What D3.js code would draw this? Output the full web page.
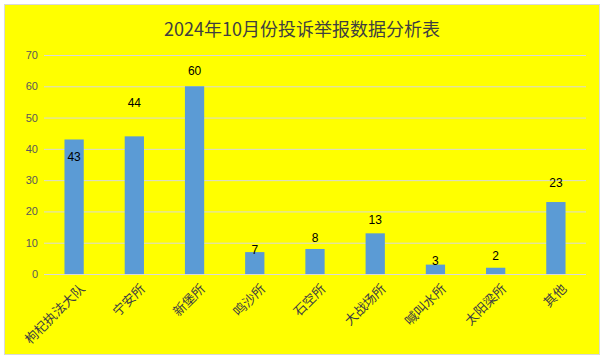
<!DOCTYPE html>
<html>
<head>
<meta charset="utf-8">
<script src="https://cdn.jsdelivr.net/npm/d3@7"></script>
<style>
html,body{margin:0;padding:0;background:#fff;}
svg{display:block;}
text{font-family:"Liberation Sans","Noto Sans CJK SC",sans-serif;}
</style>
</head>
<body>
<svg id="chart" width="604" height="359"></svg>
<script>
const title = "2024年10月份投诉举报数据分析表";
const categories = ["枸杞执法大队","宁安所","新堡所","鸣沙所","石空所","大战场所","喊叫水所","太阳梁所","其他"];
const values = [43,44,60,7,8,13,3,2,23];
// where each data label sits, in value units (as placed in the original)
const labelAt = [37.4,54.6,64.9,7.7,11.5,17.3,4.2,5.8,29.1];
const yTicks = [0,10,20,30,40,50,60,70];

const svg = d3.select("#chart");
svg.append("rect").attr("x",4.5).attr("y",4.5).attr("width",595).attr("height",350)
  .attr("fill","#FFFF00").attr("stroke","#D9D9D9").attr("stroke-width",1);

svg.append("text").attr("x",302).attr("y",36).attr("text-anchor","middle")
  .attr("font-size",18).attr("fill","#404040")
  .style("font-family","'Noto Sans CJK SC',sans-serif")
  .text(title);

const x = d3.scaleBand().domain(categories).range([44,586]).paddingInner(0.68).paddingOuter(0.34);
const y = d3.scaleLinear().domain([0,70]).range([274,55]);

// gridlines
const grid = svg.append("g").attr("transform","translate(44,0)")
  .call(d3.axisLeft(y).tickValues(yTicks).tickSize(-542).tickFormat(""));
grid.select(".domain").remove();
grid.selectAll("line").attr("stroke","#D9D9D9").attr("stroke-width",1);

// y tick labels
const ya = svg.append("g").attr("transform","translate(38,0)")
  .call(d3.axisLeft(y).tickValues(yTicks).tickSize(0).tickPadding(0));
ya.select(".domain").remove();
ya.selectAll("text").attr("font-size",11).attr("fill","#595959")
  .style("font-family","'Liberation Sans',sans-serif");

// bars
svg.append("g").selectAll("rect").data(values).join("rect")
  .attr("x",(d,i)=>x(categories[i]))
  .attr("width",x.bandwidth())
  .attr("y",d=>y(d))
  .attr("height",d=>y(0)-y(d))
  .attr("fill","#5B9BD5");

// baseline
svg.append("line").attr("x1",44).attr("x2",586).attr("y1",y(0)+0.5).attr("y2",y(0)+0.5)
  .attr("stroke","#D9D9D9").attr("stroke-width",1);

// data labels
svg.append("g").selectAll("text").data(values).join("text")
  .attr("x",(d,i)=>x(categories[i])+x.bandwidth()/2)
  .attr("y",(d,i)=>y(labelAt[i]))
  .attr("dy","0.35em")
  .attr("text-anchor","middle")
  .attr("font-size",12).attr("fill","#000")
  .text(d=>d);

// x labels
const xa = svg.append("g").attr("transform",`translate(0,${y(0)})`)
  .call(d3.axisBottom(x).tickSize(0).tickPadding(0));
xa.select(".domain").remove();
xa.selectAll("text")
  .attr("font-size",13).attr("fill","#404040")
  .style("font-family","'Noto Sans CJK SC',sans-serif")
  .attr("text-anchor","end")
  .attr("dy",null)
  .attr("transform","translate(9,13) rotate(-45)")
  .attr("dominant-baseline","middle");
</script>
</body>
</html>
